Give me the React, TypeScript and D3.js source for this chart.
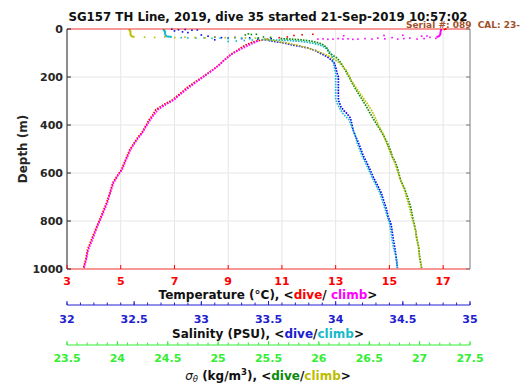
import React from "react";
import * as d3 from "d3";

const TITLE = "SG157 TH Line, 2019, dive 35 started 21-Sep-2019 10:57:02";
const SERIAL = "Serial #: 089\u00a0\u00a0CAL: 23-Apr-2019";

const depthTicks = [0, 200, 400, 600, 800, 1000];
const tempTicks = [3, 5, 7, 9, 11, 13, 15, 17];
const salTicks = [32, 32.5, 33, 33.5, 34, 34.5, 35];
const sigTicks = [23.5, 24, 24.5, 25, 25.5, 26, 26.5, 27, 27.5];

type P = [number, number]; // [depth (m), value]

// Temperature, dive (red)
const tempDiveDots: P[] = [[0, 17.1], [2, 17.05], [22, 12.15], [24, 11.75], [27, 11.45], [33, 11.2], [36, 10.9]];
const tempDiveProfile: P[] = [[42, 10.5], [46, 10.25], [50, 10.05], [55, 9.9], [62, 9.75], [70, 9.6], [80, 9.45], [90, 9.32], [100, 9.18], [110, 9.05], [125, 8.9], [140, 8.75], [160, 8.55], [180, 8.3], [200, 8.05], [222, 7.75], [246, 7.45], [270, 7.2], [296, 6.92], [315, 6.6], [337, 6.3], [360, 6.18], [379, 6.05], [400, 5.95], [433, 5.78], [454, 5.62], [475, 5.5], [504, 5.33], [545, 5.18], [587, 5.02], [610, 4.88], [642, 4.7], [680, 4.6], [725, 4.47], [780, 4.27], [825, 4.1], [880, 3.9], [921, 3.76], [960, 3.7], [996, 3.61]];
// Temperature, climb (magenta)
const tempClimbHook: P[] = [[0, 16.92], [5, 16.92], [10, 16.91], [15, 16.9], [20, 16.9], [25, 16.88], [30, 16.85], [33, 16.75]];
const tempClimbDots: P[] = [[42, 12.34], [41, 12.53], [43, 12.71], [42, 12.9], [40, 13.09], [42, 13.27], [41, 13.46], [43, 13.64], [42, 13.83], [40, 14.09], [42, 14.35], [38, 14.57], [41, 14.83], [36, 15.1], [42, 15.31], [40, 15.54], [38, 15.76], [42, 16.03], [40, 16.29], [35, 16.51], [39, 16.73], [28, 13.3], [27, 14.8], [26, 15.5], [30, 16.2], [29, 16.4]];
const tempClimbProfile: P[] = [[50, 10.1], [58, 9.95], [66, 9.8], [75, 9.64], [85, 9.45], [96, 9.27], [106, 9.12], [117, 9.0], [130, 8.85], [150, 8.67], [175, 8.38], [200, 8.07], [222, 7.8], [246, 7.52], [270, 7.25], [296, 6.97], [315, 6.68], [337, 6.38], [360, 6.22], [379, 6.1], [400, 5.98], [433, 5.8], [454, 5.66], [470, 5.55], [504, 5.36], [545, 5.2], [587, 5.05], [610, 4.9], [642, 4.73], [680, 4.62], [725, 4.5], [780, 4.3], [825, 4.12], [880, 3.94], [921, 3.79], [960, 3.72], [996, 3.63]];

// Salinity, dive (blue)
const salDiveDots: P[] = [[1, 32.78], [3, 32.83], [2, 32.88], [5, 32.93], [8, 32.8], [12, 32.86], [4, 32.97], [15, 32.9], [30, 33.05], [34, 33.1], [36, 33.15], [38, 33.2], [35, 33.25], [40, 33.3], [37, 33.36], [42, 33.42], [44, 33.48], [40, 33.52], [25, 33.0], [45, 33.1]];
const salDiveProfile: P[] = [[48, 33.5], [54, 33.57], [60, 33.63], [67, 33.68], [74, 33.75], [80, 33.8], [90, 33.85], [100, 33.88], [108, 33.91], [117, 33.94], [130, 33.97], [142, 33.99], [160, 34.0], [183, 34.01], [200, 34.02], [230, 34.02], [254, 34.02], [280, 34.02], [296, 34.02], [310, 34.03], [325, 34.04], [340, 34.06], [350, 34.08], [371, 34.11], [395, 34.12], [421, 34.13], [450, 34.15], [475, 34.17], [505, 34.19], [533, 34.21], [555, 34.23], [579, 34.25], [617, 34.28], [650, 34.31], [683, 34.34], [720, 34.36], [754, 34.38], [783, 34.39], [808, 34.41], [840, 34.42], [879, 34.43], [910, 34.44], [950, 34.45], [996, 34.46]];
// Salinity, climb (cyan)
const salClimbHook: P[] = [[0, 32.72], [5, 32.72], [10, 32.73], [15, 32.73], [22, 32.73], [30, 32.74], [33, 32.78]];
const salClimbDots: P[] = [[36, 32.85], [37, 32.9], [38, 32.96], [37, 33.02], [39, 33.08], [38, 33.14], [40, 33.2], [37, 33.25], [38, 33.3], [41, 33.36], [39, 33.42], [52, 33.2], [50, 33.26], [48, 33.32], [46, 33.38]];
const salClimbProfile: P[] = [[44, 33.45], [46, 33.55], [48, 33.65], [52, 33.74], [58, 33.82], [66, 33.88], [76, 33.92], [90, 33.95], [108, 33.97], [129, 33.98], [160, 33.99], [183, 34.0], [220, 34.0], [254, 34.0], [290, 34.0], [308, 34.01], [330, 34.03], [350, 34.05], [379, 34.1], [421, 34.13], [450, 34.15], [475, 34.16], [505, 34.18], [533, 34.2], [555, 34.22], [579, 34.24], [617, 34.27], [650, 34.3], [683, 34.33], [720, 34.35], [754, 34.37], [808, 34.4], [840, 34.41], [879, 34.42], [910, 34.43], [950, 34.45], [996, 34.46]];

// Sigma-theta, dive (green)
const sigDiveDots: P[] = [[20, 25.3], [23, 25.33], [25, 25.27], [22, 25.38], [33, 25.45], [35, 25.52], [37, 25.4]];
const sigDiveProfile: P[] = [[40, 25.62], [42, 25.72], [45, 25.82], [50, 25.92], [58, 26.0], [67, 26.05], [80, 26.08], [100, 26.1], [121, 26.18], [142, 26.22], [170, 26.26], [200, 26.3], [225, 26.33], [254, 26.37], [280, 26.41], [308, 26.45], [337, 26.49], [367, 26.53], [395, 26.57], [421, 26.61], [450, 26.65], [475, 26.68], [505, 26.71], [533, 26.73], [555, 26.76], [579, 26.78], [629, 26.81], [665, 26.85], [700, 26.88], [740, 26.91], [783, 26.93], [838, 26.96], [870, 26.97], [908, 26.99], [950, 27.0], [996, 27.02]];
// Sigma-theta, climb (olive)
const sigClimbHook: P[] = [[0, 24.12], [5, 24.12], [10, 24.13], [15, 24.13], [22, 24.13], [30, 24.14], [33, 24.17]];
const sigClimbDots: P[] = [[34, 24.27], [35, 24.37], [33, 24.47], [36, 24.57], [34, 24.67], [35, 24.77], [37, 24.87], [34, 24.97], [36, 25.07], [35, 25.17], [37, 25.27], [38, 25.37]];
const sigClimbProfile: P[] = [[42, 25.45], [48, 25.55], [54, 25.62], [60, 25.7], [67, 25.78], [77, 25.87], [87, 25.95], [100, 26.03], [117, 26.12], [140, 26.2], [171, 26.27], [212, 26.32], [245, 26.37], [275, 26.42], [305, 26.47], [337, 26.52], [370, 26.56], [400, 26.59], [430, 26.63], [462, 26.66], [495, 26.69], [525, 26.72], [555, 26.75], [579, 26.77], [629, 26.81], [670, 26.85], [700, 26.87], [745, 26.9], [783, 26.92], [838, 26.96], [870, 26.97], [908, 26.99], [950, 27.0], [996, 27.02]];

const W = 520, H = 390;
const L = 67, R = 470, T = 29, B = 269;
const FONT = "DejaVu Sans, sans-serif";

const C = {
  red: "#ff0000", magenta: "#ff00ff", blue: "#0000ff", cyan: "#19b9c9",
  green: "#0a8a0a", olive: "#bcbc00",
  salAxis: "#2020d0", sigAxis: "#33ee33", grid: "#e6e6e6", serial: "#a0522d",
};

const y = d3.scaleLinear().domain([0, 1000]).range([T, B]);
const xT = d3.scaleLinear().domain([3, 18]).range([L, R]);
const xS = d3.scaleLinear().domain([32, 35]).range([L, R]);
const xG = d3.scaleLinear().domain([23.5, 27.5]).range([L, R]);

function Series({ x, color, hook, dots, profile }: { x: d3.ScaleLinear<number, number>; color: string; hook?: P[]; dots: P[]; profile: P[] }) {
  const line = d3.line<P>().x((d) => x(d[1])).y((d) => y(d[0]));
  return (
    <g>
      {hook && <path d={line(hook) || ""} fill="none" stroke={color} strokeWidth={2} />}
      {dots.map((d, i) => (
        <rect key={i} x={x(d[1]) - 0.8} y={y(d[0]) - 0.8} width={1.6} height={1.6} fill={color} />
      ))}
      <path d={line(profile) || ""} fill="none" stroke={color} strokeWidth={1.7} strokeDasharray="1.6 1.2" />
    </g>
  );
}

function BottomAxis({ scale, yPos, ticks, minor, color, labelY, fmt }: { scale: d3.ScaleLinear<number, number>; yPos: number; ticks: number[]; minor: number[]; color: string; labelY: number; fmt: (v: number) => string }) {
  return (
    <g>
      <line x1={L} x2={R} y1={yPos} y2={yPos} stroke={color} strokeWidth={1} />
      {minor.map((v, i) => (
        <line key={"m" + i} x1={scale(v)} x2={scale(v)} y1={yPos} y2={yPos - 2.5} stroke={color} strokeWidth={1} />
      ))}
      {ticks.map((v, i) => (
        <g key={i}>
          <line x1={scale(v)} x2={scale(v)} y1={yPos} y2={yPos - 4} stroke={color} strokeWidth={1} />
          <text x={scale(v)} y={labelY} textAnchor="middle" dominantBaseline="central" fontSize={11} fontWeight="bold" fill={color}>{fmt(v)}</text>
        </g>
      ))}
    </g>
  );
}

export default function App() {
  const salMinor = d3.range(32, 35.0001, 0.1);
  const sigMinor = d3.range(23.5, 27.5001, 0.1);
  return (
    <div style={{ position: "absolute", left: 0, top: 0, width: W, height: H, overflow: "hidden", background: "#fff" }}>
      <svg width={W} height={H} style={{ display: "block", fontFamily: FONT }}>
        <rect width={W} height={H} fill="#fff" />
        {/* grid */}
        {tempTicks.map((v, i) => (
          <line key={"gx" + i} x1={xT(v)} x2={xT(v)} y1={T} y2={B} stroke={C.grid} strokeWidth={1} />
        ))}
        {depthTicks.map((v, i) => (
          <line key={"gy" + i} x1={L} x2={R} y1={y(v)} y2={y(v)} stroke={C.grid} strokeWidth={1} />
        ))}
        {/* data */}
        <Series x={xT} color={C.red} dots={tempDiveDots} profile={tempDiveProfile} />
        <Series x={xT} color={C.magenta} hook={tempClimbHook} dots={tempClimbDots} profile={tempClimbProfile} />
        <Series x={xS} color={C.blue} dots={salDiveDots} profile={salDiveProfile} />
        <Series x={xS} color={C.cyan} hook={salClimbHook} dots={salClimbDots} profile={salClimbProfile} />
        <Series x={xG} color={C.green} dots={sigDiveDots} profile={sigDiveProfile} />
        <Series x={xG} color={C.olive} hook={sigClimbHook} dots={sigClimbDots} profile={sigClimbProfile} />
        {/* box */}
        <line x1={L} x2={L} y1={T} y2={B} stroke="#262626" strokeWidth={1} />
        <line x1={R} x2={R} y1={T} y2={B} stroke="#7a7a7a" strokeWidth={1} />
        <line x1={L} x2={R} y1={T} y2={T} stroke={C.red} strokeWidth={1} opacity={0.75} />
        <line x1={L} x2={R} y1={B} y2={B} stroke={C.red} strokeWidth={1} opacity={0.75} />
        {/* depth axis */}
        {depthTicks.map((v, i) => (
          <g key={"dy" + i}>
            <line x1={L} x2={L + 4} y1={y(v)} y2={y(v)} stroke="#262626" />
            <line x1={R} x2={R - 4} y1={y(v)} y2={y(v)} stroke="#7a7a7a" />
            <text x={L - 4} y={y(v)} textAnchor="end" dominantBaseline="central" fontSize={11} fontWeight="bold" fill="#262626">{v}</text>
          </g>
        ))}
        <text transform={`translate(23,${(T + B) / 2}) rotate(-90)`} textAnchor="middle" dominantBaseline="central" fontSize={12} fontWeight="bold" fill="#262626">Depth (m)</text>
        {/* temperature axis */}
        {tempTicks.map((v, i) => (
          <g key={"tx" + i}>
            <line x1={xT(v)} x2={xT(v)} y1={B} y2={B - 4} stroke={C.red} />
            <text x={xT(v)} y={281} textAnchor="middle" dominantBaseline="central" fontSize={11} fontWeight="bold" fill={C.red}>{v}</text>
          </g>
        ))}
        <text x={268} y={295} textAnchor="middle" dominantBaseline="central" fontSize={12} fontWeight="bold" fill="#111">
          Temperature (°C), &lt;<tspan fill={C.red}>dive</tspan>/ <tspan fill={C.magenta}>climb</tspan>&gt;
        </text>
        {/* salinity axis */}
        <BottomAxis scale={xS} yPos={305} ticks={salTicks} minor={salMinor} color={C.salAxis} labelY={319} fmt={(v) => String(v)} />
        <text x={268} y={334} textAnchor="middle" dominantBaseline="central" fontSize={12} fontWeight="bold" fill="#111">
          Salinity (PSU), &lt;<tspan fill={C.salAxis}>dive</tspan>/<tspan fill={C.cyan}>climb</tspan>&gt;
        </text>
        {/* sigma axis */}
        <BottomAxis scale={xG} yPos={345} ticks={sigTicks} minor={sigMinor} color={C.sigAxis} labelY={358} fmt={(v) => String(v)} />
        <text x={268} y={376} textAnchor="middle" dominantBaseline="central" fontSize={12} fontWeight="bold" fill="#111">
          <tspan fontStyle="italic" fontWeight="normal">σ</tspan><tspan fontStyle="italic" fontWeight="normal" fontSize={8.5} dy={3}>θ</tspan><tspan dy={-3}> (kg/m</tspan><tspan fontSize={8.5} dy={-4}>3</tspan><tspan dy={4}>), &lt;</tspan><tspan fill={C.green}>dive</tspan>/<tspan fill={C.olive}>climb</tspan>&gt;
        </text>
        {/* title */}
        <text x={268} y={17} textAnchor="middle" dominantBaseline="central" fontSize={11.8} fontWeight="bold" fill="#111">{TITLE}</text>
        <text x={406} y={25} dominantBaseline="central" fontSize={9} fontWeight="bold" fill={C.serial}>{SERIAL}</text>
      </svg>
    </div>
  );
}
